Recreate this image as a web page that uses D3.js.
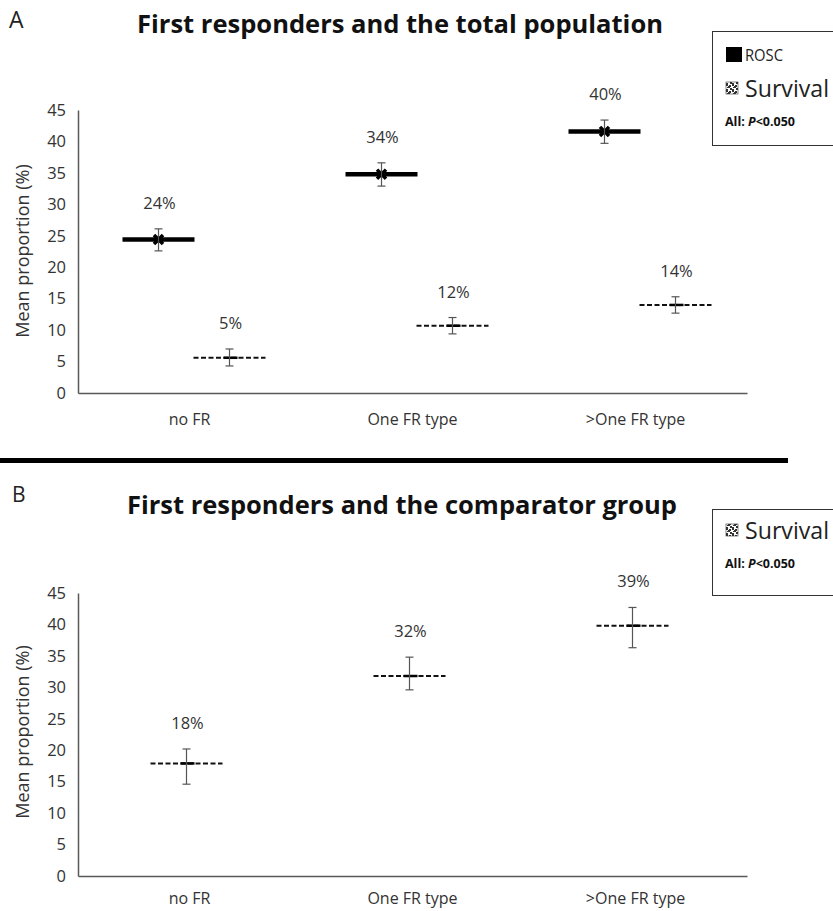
<!DOCTYPE html>
<html>
<head>
<meta charset="utf-8">
<script src="https://cdn.jsdelivr.net/npm/d3@7"></script>
<style>
  body { margin: 0; background: #fff; }
  svg { display: block; font-family: "Open Sans", sans-serif; }
</style>
</head>
<body>
<div id="chart"></div>
<script>
// categories and values
const categories = ["no FR", "One FR type", ">One FR type"];
const yTicks = [0, 5, 10, 15, 20, 25, 30, 35, 40, 45];

// panel A - ROSC
const roscMeanA = [24.4, 34.8, 41.6];
const roscLowA = [22.6, 32.9, 39.7];
const roscHighA = [26.1, 36.6, 43.4];
const roscLabelsA = ["24%", "34%", "40%"];

// panel A - survival
const survMeanA = [5.6, 10.7, 14.0];
const survLowA = [4.3, 9.4, 12.7];
const survHighA = [7.0, 12.0, 15.3];
const survLabelsA = ["5%", "12%", "14%"];

// panel B - survival
const survMeanB = [17.9, 31.8, 39.8];
const survLowB = [14.6, 29.6, 36.3];
const survHighB = [20.2, 34.8, 42.7];
const survLabelsB = ["18%", "32%", "39%"];

const W = 833, H = 911;
const svg = d3.select("#chart").append("svg")
    .attr("width", W)
    .attr("height", H);

// pattern for the survival legend icon
const pat = svg.append("defs").append("pattern")
    .attr("id", "survPat")
    .attr("width", 6).attr("height", 6)
    .attr("patternUnits", "userSpaceOnUse");
pat.append("rect").attr("width", 6).attr("height", 6).attr("fill", "#fff");
[[0, 0, 2, 2], [3, 1, 2, 2], [1, 3, 3, 1], [4, 4, 2, 2], [0, 5, 2, 1], [2, 2, 1, 1]].forEach(r => {
    pat.append("rect").attr("x", r[0]).attr("y", r[1]).attr("width", r[2]).attr("height", r[3]).attr("fill", "#333");
});

function drawPanel(cfg) {
    const g = svg.append("g");

    const x = d3.scaleBand()
        .domain(categories)
        .range([78, 747]);

    const y = d3.scaleLinear()
        .domain([0, 45])
        .range([cfg.bottom, cfg.bottom - 283]);

    // axes
    const yAxis = g.append("g")
        .attr("transform", "translate(78,0)")
        .call(d3.axisLeft(y).tickValues(yTicks).tickSize(0).tickPadding(12));
    yAxis.select(".domain").attr("stroke", "#595959").attr("stroke-width", 1.5);
    yAxis.selectAll("text").attr("font-size", 16.5).attr("fill", "#333").attr("font-family", "Open Sans");

    const xAxis = g.append("g")
        .attr("transform", `translate(0,${cfg.bottom})`)
        .call(d3.axisBottom(x).tickSize(0).tickPadding(cfg.xPad));
    xAxis.select(".domain").attr("stroke", "#595959").attr("stroke-width", 1.5);
    xAxis.selectAll("text").attr("font-size", 16).attr("fill", "#333").attr("font-family", "Open Sans");

    g.append("text")
        .attr("transform", `translate(29,${cfg.ylabelY}) rotate(-90)`)
        .attr("text-anchor", "middle")
        .attr("font-size", 18)
        .attr("fill", "#333")
        .text("Mean proportion (%)");

    // series
    cfg.series.forEach(s => {
        const cx = i => x(categories[i]) + x.bandwidth() / 2 + s.offset;
        const pts = g.append("g").selectAll("g")
            .data(s.mean)
            .enter().append("g");

        if (s.type === "rosc") {
            pts.append("line")
                .attr("x1", (d, i) => cx(i) - 36).attr("x2", (d, i) => cx(i) + 36)
                .attr("y1", d => y(d)).attr("y2", d => y(d))
                .attr("stroke", "#000").attr("stroke-width", 4.5);
            pts.append("path")
                .attr("d", d3.symbol(d3.symbolX, 55))
                .attr("transform", (d, i) => `translate(${cx(i)},${y(d)})`)
                .attr("stroke", "#000").attr("stroke-width", 3.5).attr("fill", "none");
        } else {
            pts.append("line")
                .attr("x1", (d, i) => cx(i) - 36).attr("x2", (d, i) => cx(i) + 36)
                .attr("y1", d => y(d)).attr("y2", d => y(d))
                .attr("stroke", "#111").attr("stroke-width", 2)
                .attr("stroke-dasharray", "5,2.5");
            pts.append("line")
                .attr("x1", (d, i) => cx(i) - 6).attr("x2", (d, i) => cx(i) + 8)
                .attr("y1", d => y(d)).attr("y2", d => y(d))
                .attr("stroke", "#000").attr("stroke-width", 2.5);
        }

        // error bars
        pts.append("line")
            .attr("x1", (d, i) => cx(i)).attr("x2", (d, i) => cx(i))
            .attr("y1", (d, i) => y(s.low[i])).attr("y2", (d, i) => y(s.high[i]))
            .attr("stroke", "#555").attr("stroke-width", 1.2);
        [s.low, s.high].forEach(arr => {
            pts.append("line")
                .attr("x1", (d, i) => cx(i) - 4).attr("x2", (d, i) => cx(i) + 4)
                .attr("y1", (d, i) => y(arr[i])).attr("y2", (d, i) => y(arr[i]))
                .attr("stroke", "#555").attr("stroke-width", 1.2);
        });

        // value labels
        pts.append("text")
            .attr("x", (d, i) => cx(i) + 1)
            .attr("y", (d, i) => y(s.high[i]) - 20)
            .attr("text-anchor", "middle")
            .attr("font-size", 16.5)
            .attr("fill", "#333")
            .text((d, i) => s.labels[i]);
    });

    // panel letter and title
    g.append("text")
        .attr("x", cfg.letterX).attr("y", cfg.letterY)
        .attr("font-size", cfg.letterSize)
        .attr("fill", "#222")
        .text(cfg.letter);

    g.append("text")
        .attr("x", cfg.titleX).attr("y", cfg.titleY)
        .attr("font-size", 25)
        .attr("font-weight", "bold")
        .attr("fill", "#111")
        .attr("textLength", cfg.titleW)
        .attr("lengthAdjust", "spacingAndGlyphs")
        .text(cfg.title);

    // legend box
    const lg = g.append("g");
    lg.append("rect")
        .attr("x", 712.5).attr("y", cfg.legendTop + 0.5)
        .attr("width", 140).attr("height", cfg.legendH)
        .attr("fill", "#fff").attr("stroke", "#333").attr("stroke-width", 1);

    let ly = cfg.legendTop;
    if (cfg.showRosc) {
        lg.append("rect").attr("x", 726).attr("y", ly + 16).attr("width", 16).attr("height", 15).attr("fill", "#000");
        lg.append("text").attr("x", 745).attr("y", ly + 30).attr("font-size", 17).attr("fill", "#222")
            .attr("textLength", 38).attr("lengthAdjust", "spacingAndGlyphs").text("ROSC");
        ly += 36;
    }
    lg.append("rect").attr("x", 726).attr("y", ly + 15).attr("width", 12).attr("height", 12)
        .attr("fill", "url(#survPat)").attr("stroke", "#333").attr("stroke-width", 0.6);
    lg.append("text").attr("x", 745).attr("y", ly + 30).attr("font-size", 23).attr("fill", "#222")
        .attr("textLength", 84).attr("lengthAdjust", "spacingAndGlyphs").text("Survival");
    const pt = lg.append("text").attr("x", 725).attr("y", ly + 59)
        .attr("font-size", 12.5).attr("font-weight", "bold").attr("fill", "#111");
    pt.append("tspan").text("All: ");
    pt.append("tspan").attr("font-style", "italic").text("P");
    pt.append("tspan").text("<0.050");
}

drawPanel({
    bottom: 393, xPad: 21,
    ylabelY: 251,
    letter: "A", letterX: 9, letterY: 28, letterSize: 23,
    title: "First responders and the total population", titleX: 137, titleY: 33, titleW: 526,
    legendTop: 31, legendH: 114, showRosc: true,
    series: [
        {type: "rosc", offset: -31, mean: roscMeanA, low: roscLowA, high: roscHighA, labels: roscLabelsA},
        {type: "surv", offset: 40, mean: survMeanA, low: survLowA, high: survHighA, labels: survLabelsA}
    ]
});

drawPanel({
    bottom: 876, xPad: 17,
    ylabelY: 732,
    letter: "B", letterX: 12, letterY: 502, letterSize: 21,
    title: "First responders and the comparator group", titleX: 127, titleY: 514, titleW: 550,
    legendTop: 509, legendH: 86, showRosc: false,
    series: [
        {type: "surv", offset: -3, mean: survMeanB, low: survLowB, high: survHighB, labels: survLabelsB}
    ]
});

// separator between the panels
svg.append("rect")
    .attr("x", 0).attr("y", 458)
    .attr("width", 788).attr("height", 5)
    .attr("fill", "#000");
</script>
</body>
</html>
